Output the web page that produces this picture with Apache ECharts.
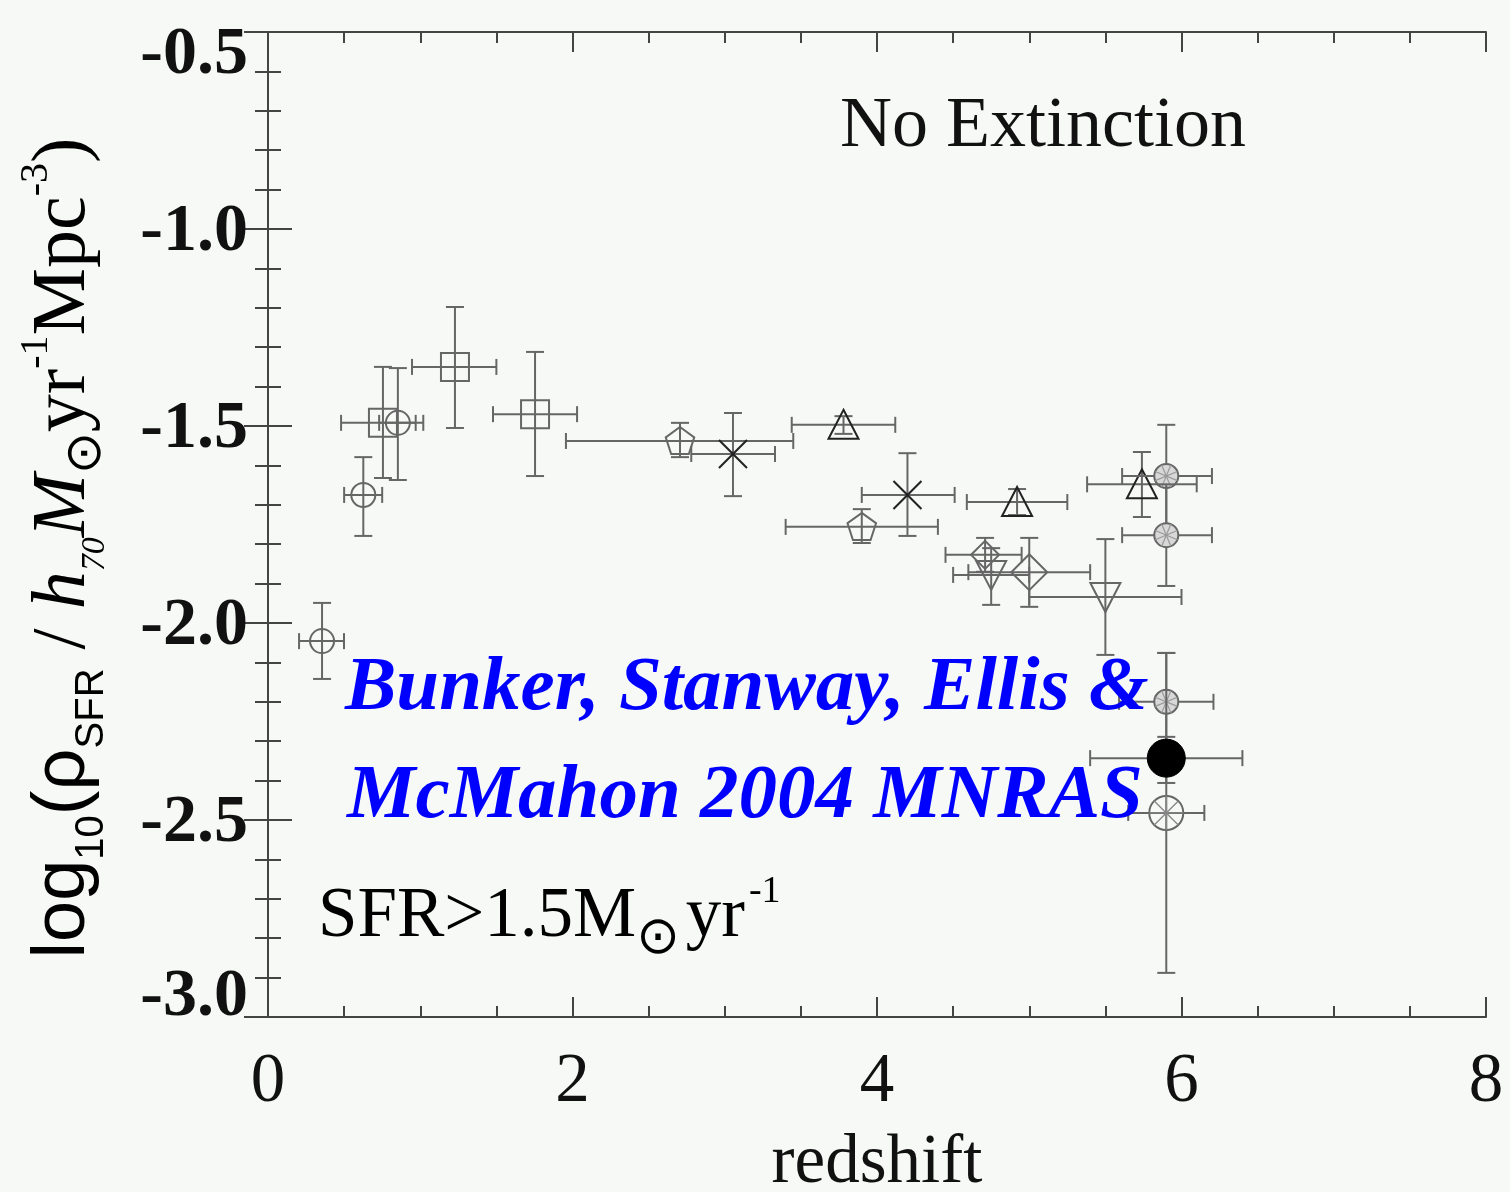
<!DOCTYPE html>
<html>
<head>
<meta charset="utf-8">
<script src="https://cdn.jsdelivr.net/npm/echarts@6/dist/echarts.min.js"></script>
<style>
  html, body { margin: 0; padding: 0; background: #f6f9f6; }
  #chart { width: 1510px; height: 1192px; }
</style>
</head>
<body>
<div id="chart"></div>
<script>
// Star formation rate density vs redshift (SFR > 1.5 Msun/yr, no extinction correction)
// Each row: [redshift, log10 rho_SFR, z_low, z_high, rho_low, rho_high]
const openCircles = [
  [0.355, -2.046, 0.204, 0.499, -2.142, -1.949],
  [0.626, -1.675, 0.50, 0.75, -1.779, -1.579],
  [0.853, -1.492, 0.73, 0.97, -1.637, -1.353]
];
const squares = [
  [0.755, -1.492, 0.48, 1.02, -1.632, -1.350],
  [1.228, -1.350, 0.946, 1.50, -1.505, -1.198],
  [1.754, -1.470, 1.478, 2.03, -1.627, -1.312]
];
const pentagons = [
  [2.706, -1.538, 1.957, 3.45, -1.579, -1.492],
  [3.90, -1.756, 3.40, 4.40, -1.797, -1.711]
];
const asterisks = [
  [3.054, -1.571, 2.78, 3.33, -1.678, -1.467],
  [4.20, -1.675, 3.90, 4.51, -1.779, -1.569]
];
const trianglesUp = [
  [3.78, -1.497, 3.44, 4.12, -1.52, -1.475],
  [4.92, -1.693, 4.59, 5.25, -1.726, -1.660],
  [5.74, -1.648, 5.38, 6.10, -1.731, -1.566]
];
const diamonds = [
  [4.71, -1.827, 4.45, 4.95, -1.87, -1.784],
  [5.00, -1.871, 4.60, 5.40, -1.959, -1.784]
];
const trianglesDown = [
  [4.75, -1.878, 4.50, 5.00, -1.954, -1.81],
  [5.50, -1.934, 5.00, 6.00, -2.081, -1.787]
];
const hatchedCircles = [
  [5.90, -1.627, 5.61, 6.20, -1.76, -1.497],
  [5.90, -1.777, 5.61, 6.20, -1.906, -1.648],
  [5.90, -2.200, 5.59, 6.21, -2.32, -2.076]
];
const filledCircles = [
  [5.90, -2.343, 5.40, 6.40, -2.406, -2.289]
];
const starCircles = [
  [5.90, -2.482, 5.65, 6.15, -2.888, -2.076]
];

const xTicks = [0, 2, 4, 6, 8];
const yTicks = [-3.0, -2.5, -2.0, -1.5, -1.0, -0.5];

const GRAY = '#666';
const DARK = '#222';

function poly(cx, cy, pts) {
  return pts.map(p => [cx + p[0], cy + p[1]]);
}

// marker builders: return zrender child elements centred at (cx, cy)
const markers = {
  openCircle: (cx, cy) => [{ type: 'circle', shape: { cx, cy, r: 12 }, style: { fill: 'none', stroke: GRAY, lineWidth: 2 } }],
  square: (cx, cy) => [{ type: 'rect', shape: { x: cx - 14, y: cy - 14, width: 28, height: 28 }, style: { fill: 'none', stroke: GRAY, lineWidth: 2 } }],
  pentagon: (cx, cy) => {
    const pts = [];
    for (let i = 0; i < 5; i++) {
      const a = -Math.PI / 2 + i * 2 * Math.PI / 5;
      pts.push([15 * Math.cos(a), 15 * Math.sin(a) + 1]);
    }
    return [{ type: 'polygon', shape: { points: poly(cx, cy, pts) }, style: { fill: 'none', stroke: GRAY, lineWidth: 2 } }];
  },
  asterisk: (cx, cy) => {
    const d = 14;
    return [
      { type: 'line', shape: { x1: cx - d, y1: cy - d, x2: cx + d, y2: cy + d }, style: { stroke: DARK, lineWidth: 2 } },
      { type: 'line', shape: { x1: cx - d, y1: cy + d, x2: cx + d, y2: cy - d }, style: { stroke: DARK, lineWidth: 2 } }
    ];
  },
  triangleUp: (cx, cy) => [{ type: 'polygon', shape: { points: poly(cx, cy, [[0, -15], [15, 14], [-15, 14]]) }, style: { fill: 'none', stroke: DARK, lineWidth: 2 } }],
  triangleDown: (cx, cy) => [{ type: 'polygon', shape: { points: poly(cx, cy, [[-15, -14], [15, -14], [0, 15]]) }, style: { fill: 'none', stroke: GRAY, lineWidth: 2 } }],
  diamond: (cx, cy, i) => {
    const s = i === 0 ? 14 : 18;
    return [{ type: 'polygon', shape: { points: poly(cx, cy, [[0, -s], [s, 0], [0, s], [-s, 0]]) }, style: { fill: 'none', stroke: GRAY, lineWidth: 2 } }];
  },
  hatchedCircle: (cx, cy) => {
    const r = 12, out = [{ type: 'circle', shape: { cx, cy, r }, style: { fill: '#d8d8d8', stroke: GRAY, lineWidth: 2 } }];
    for (let k = 0; k < 4; k++) {
      const a = Math.PI / 4 * k + Math.PI / 8;
      out.push({ type: 'line', shape: { x1: cx - r * Math.cos(a), y1: cy - r * Math.sin(a), x2: cx + r * Math.cos(a), y2: cy + r * Math.sin(a) }, style: { stroke: '#999', lineWidth: 1.2 } });
    }
    return out;
  },
  filledCircle: (cx, cy) => [{ type: 'circle', shape: { cx, cy, r: 19 }, style: { fill: '#000', stroke: '#000', lineWidth: 1 } }],
  starCircle: (cx, cy) => {
    const r = 17, out = [{ type: 'circle', shape: { cx, cy, r }, style: { fill: 'none', stroke: GRAY, lineWidth: 2 } }];
    for (let k = 0; k < 4; k++) {
      const a = Math.PI / 4 * k;
      out.push({ type: 'line', shape: { x1: cx - r * Math.cos(a), y1: cy - r * Math.sin(a), x2: cx + r * Math.cos(a), y2: cy + r * Math.sin(a) }, style: { stroke: '#888', lineWidth: 1.4 } });
    }
    return out;
  }
};

function errSeries(name, data, markerKey) {
  return {
    type: 'custom',
    name,
    data,
    encode: { x: 0, y: 1 },
    z: markerKey === 'filledCircle' ? 5 : 3,
    renderItem: function (params, api) {
      const z = api.value(0), v = api.value(1);
      const c = api.coord([z, v]);
      const xl = api.coord([api.value(2), v])[0];
      const xh = api.coord([api.value(3), v])[0];
      const yl = api.coord([z, api.value(4)])[1];
      const yh = api.coord([z, api.value(5)])[1];
      const ls = { stroke: GRAY, lineWidth: 2 };
      const children = [
        { type: 'line', shape: { x1: xl, y1: c[1], x2: xh, y2: c[1] }, style: ls },
        { type: 'line', shape: { x1: xl, y1: c[1] - 8, x2: xl, y2: c[1] + 8 }, style: ls },
        { type: 'line', shape: { x1: xh, y1: c[1] - 8, x2: xh, y2: c[1] + 8 }, style: ls },
        { type: 'line', shape: { x1: c[0], y1: yl, x2: c[0], y2: yh }, style: ls },
        { type: 'line', shape: { x1: c[0] - 9, y1: yl, x2: c[0] + 9, y2: yl }, style: ls },
        { type: 'line', shape: { x1: c[0] - 9, y1: yh, x2: c[0] + 9, y2: yh }, style: ls }
      ];
      return { type: 'group', children: children.concat(markers[markerKey](c[0], c[1], params.dataIndex)) };
    }
  };
}

const axisLine = { show: true, lineStyle: { color: '#444', width: 2 } };
const serif = '"Liberation Serif", "Times New Roman", serif';

// end labels of the value axis sit just inside the frame
function yLabel(v) {
  const s = v.toFixed(1);
  if (v === yTicks[yTicks.length - 1]) return '{t|' + s + '}';
  if (v === yTicks[0]) return '{b|' + s + '}';
  return '{n|' + s + '}';
}

const chart = echarts.init(document.getElementById('chart'), null, { renderer: 'canvas' });
chart.setOption({
  backgroundColor: '#f6f9f6',
  animation: false,
  grid: { left: 268, top: 32, width: 1218, height: 985, containLabel: false, outerBoundsMode: 'none' },
  xAxis: [
    {
      type: 'value', min: xTicks[0], max: xTicks[xTicks.length - 1], interval: 2, position: 'bottom',
      axisLine, splitLine: { show: false },
      axisTick: { show: true, inside: true, length: 20, lineStyle: { color: '#444', width: 2 } },
      minorTick: { show: true, splitNumber: 4, length: 11, lineStyle: { color: '#444', width: 2 } },
      axisLabel: { margin: 31, fontFamily: serif, fontSize: 69, color: '#111' },
      name: 'redshift', nameLocation: 'middle', nameGap: 112,
      nameTextStyle: { fontFamily: serif, fontSize: 69, color: '#111', verticalAlign: 'top' }
    },
    {
      type: 'value', min: xTicks[0], max: xTicks[xTicks.length - 1], interval: 2, position: 'top',
      axisLine, splitLine: { show: false }, axisLabel: { show: false },
      axisTick: { show: true, inside: true, length: 20, lineStyle: { color: '#444', width: 2 } },
      minorTick: { show: true, splitNumber: 4, length: 11, lineStyle: { color: '#444', width: 2 } }
    }
  ],
  yAxis: [
    {
      type: 'value', min: yTicks[0], max: yTicks[yTicks.length - 1], interval: 0.5, position: 'left',
      axisLine, splitLine: { show: false },
      axisTick: { show: true, inside: true, length: 24, lineStyle: { color: '#444', width: 2 } },
      minorTick: { show: true, splitNumber: 5, length: 13, lineStyle: { color: '#444', width: 2 } },
      axisLabel: {
        margin: 20, formatter: yLabel,
        rich: {
          n: { fontFamily: serif, fontSize: 68, fontWeight: 'bold', color: '#111', padding: [6, 0, 0, 0] },
          t: { fontFamily: serif, fontSize: 68, fontWeight: 'bold', color: '#111', padding: [46, 0, 0, 0] },
          b: { fontFamily: serif, fontSize: 68, fontWeight: 'bold', color: '#111', padding: [0, 0, 40, 0] }
        }
      }
    },
    {
      type: 'value', min: yTicks[0], max: yTicks[yTicks.length - 1], interval: 0.5, position: 'right',
      axisLine, splitLine: { show: false }, axisLabel: { show: false },
      axisTick: { show: true, inside: true, length: 24, lineStyle: { color: '#444', width: 2 } },
      minorTick: { show: true, splitNumber: 5, length: 13, lineStyle: { color: '#444', width: 2 } }
    }
  ],
  series: [
    errSeries('open circles', openCircles, 'openCircle'),
    errSeries('squares', squares, 'square'),
    errSeries('pentagons', pentagons, 'pentagon'),
    errSeries('asterisks', asterisks, 'asterisk'),
    errSeries('triangles', trianglesUp, 'triangleUp'),
    errSeries('diamonds', diamonds, 'diamond'),
    errSeries('inverted triangles', trianglesDown, 'triangleDown'),
    errSeries('hatched circles', hatchedCircles, 'hatchedCircle'),
    errSeries('filled circle', filledCircles, 'filledCircle'),
    errSeries('star circle', starCircles, 'starCircle')
  ],
  graphic: [
    {
      type: 'text', x: 840, y: 127, z: 10,
      style: { text: 'No Extinction', fontFamily: serif, fontSize: 72, fill: '#111', verticalAlign: 'middle' }
    },
    {
      type: 'text', x: 318, y: 917, z: 10,
      style: {
        text: '{m|SFR>1.5M}{s|⊙}{m|yr}{p|-1}',
        verticalAlign: 'middle',
        rich: {
          m: { fontFamily: serif, fontSize: 71, color: '#111', lineHeight: 96 },
          s: { fontFamily: '"DejaVu Sans", sans-serif', fontSize: 52, color: '#111', lineHeight: 96, verticalAlign: 'bottom', padding: [0, 6, 0, 0] },
          p: { fontFamily: serif, fontSize: 38, color: '#111', lineHeight: 96, verticalAlign: 'top', padding: [4, 0, 0, 4] }
        }
      }
    },
    {
      type: 'text', x: 345, y: 689, z: 20,
      style: { text: 'Bunker, Stanway, Ellis &', fontFamily: serif, fontSize: 77, fontWeight: 'bold', fontStyle: 'italic', fill: '#0000ff', verticalAlign: 'middle' }
    },
    {
      type: 'text', x: 347, y: 797, z: 20,
      style: { text: 'McMahon 2004 MNRAS', fontFamily: serif, fontSize: 77, fontWeight: 'bold', fontStyle: 'italic', fill: '#0000ff', verticalAlign: 'middle' }
    },
    {
      type: 'text', x: 64, y: 548, rotation: Math.PI / 2, z: 10,
      style: {
        text: '{g|log}{gs|10}{g|(ρ}{gs|SFR}{m| / }{i|h}{is|70}{i|M}{s|⊙}{m|yr}{p|-1}{m|Mpc}{p|-3}{m|)}',
        align: 'center', verticalAlign: 'middle',
        rich: {
          g: { fontFamily: '"Liberation Sans", Arial, sans-serif', fontSize: 74, color: '#111', lineHeight: 96 },
          gs: { fontFamily: '"Liberation Sans", Arial, sans-serif', fontSize: 40, color: '#111', lineHeight: 96, verticalAlign: 'bottom' },
          m: { fontFamily: serif, fontSize: 76, color: '#111', lineHeight: 96 },
          i: { fontFamily: serif, fontStyle: 'italic', fontSize: 76, color: '#111', lineHeight: 96 },
          is: { fontFamily: serif, fontStyle: 'italic', fontSize: 34, color: '#111', lineHeight: 96, verticalAlign: 'bottom' },
          s: { fontFamily: '"DejaVu Sans", sans-serif', fontSize: 50, color: '#111', lineHeight: 96, verticalAlign: 'bottom' },
          p: { fontFamily: serif, fontSize: 40, color: '#111', lineHeight: 96, verticalAlign: 'top' }
        }
      }
    }
  ]
});
</script>
</body>
</html>
